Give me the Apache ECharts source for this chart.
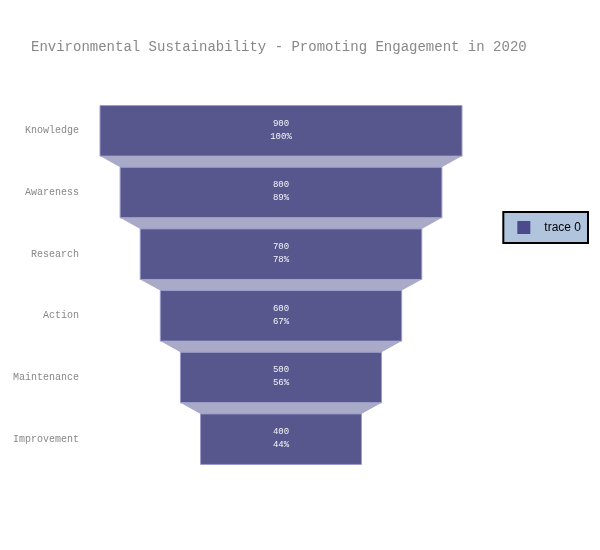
<!DOCTYPE html>
<html>
<head>
<meta charset="utf-8">
<script src="https://cdn.jsdelivr.net/npm/echarts@6/dist/echarts.min.js"></script>
<style>html,body{margin:0;padding:0;background:#fff}#c{width:600px;height:550px}</style>
</head>
<body>
<div id="c"></div>
<script>
const categories = ['Knowledge', 'Awareness', 'Research', 'Action', 'Maintenance', 'Improvement'];
const values = [900, 800, 700, 600, 500, 400];
const seriesName = 'trace 0';
const titleText = 'Environmental Sustainability - Promoting Engagement in 2020';

const chart = echarts.init(document.getElementById('c'), null, {renderer: 'canvas'});
const BAR = '#57578e', CONN = '#a9a9c8', EDGE = '#9c9ccc';
const mono = '"Liberation Mono", "Courier New", monospace';

function renderItem(params, api) {
  const i = api.value(0), v = api.value(1);
  const l = api.coord([-v / 2, i]), r = api.coord([v / 2, i]);
  const h = api.size([0, 1])[1] * 0.82;
  const children = [];
  if (i > 0) {
    const p = values[i - 1];
    const pl = api.coord([-p / 2, i - 1]), pr = api.coord([p / 2, i - 1]);
    children.push({
      type: 'polygon',
      shape: {points: [[pl[0], pl[1] + h / 2], [pr[0], pr[1] + h / 2], [r[0], r[1] - h / 2], [l[0], l[1] - h / 2]]},
      style: {fill: CONN}
    });
  }
  children.push({
    type: 'rect',
    shape: {x: l[0], y: l[1] - h / 2, width: r[0] - l[0], height: h},
    style: {fill: BAR, stroke: EDGE, lineWidth: 1}
  });
  const pct = Math.round(v / values[0] * 100);
  children.push({
    type: 'text',
    style: {
      text: v + '\n' + pct + '%', x: (l[0] + r[0]) / 2, y: l[1] - 1,
      align: 'center', verticalAlign: 'middle',
      fill: '#f4f4fa', font: '9px ' + mono, lineHeight: 13
    }
  });
  return {type: 'group', children};
}

chart.setOption({
  animation: false,
  backgroundColor: '#ffffff',
  title: {
    text: titleText, left: 26, top: 35,
    textStyle: {fontFamily: mono, fontSize: 14, fontWeight: 'normal', color: '#888888'}
  },
  legend: {
    data: [{name: seriesName, itemStyle: {color: '#4b4b8b'}}],
    right: 12, top: 212, orient: 'vertical',
    backgroundColor: '#b0c4de', borderColor: '#000000', borderWidth: 2,
    padding: [9, 7, 9, 14], itemWidth: 13, itemHeight: 13, itemGap: 5,
    icon: 'rect',
    textStyle: {fontFamily: '"Liberation Sans", Arial, sans-serif', fontSize: 12, color: '#000000', padding: [0, 0, 0, 9]}
  },
  grid: {left: 100, right: 138, top: 100, bottom: 80},
  xAxis: {type: 'value', min: -450, max: 450, show: false},
  yAxis: {
    type: 'category', data: categories, inverse: true,
    axisLine: {show: false}, axisTick: {show: false}, splitLine: {show: false},
    axisLabel: {fontFamily: mono, fontSize: 10, color: '#888888', margin: 21}
  },
  series: [{
    type: 'custom', name: seriesName, renderItem,
    itemStyle: {color: '#4b4b8b'},
    encode: {x: 1, y: 0},
    data: values.map((v, i) => [i, v])
  }]
});
</script>
</body>
</html>
